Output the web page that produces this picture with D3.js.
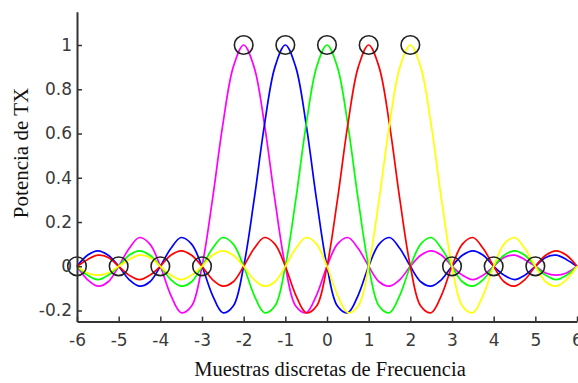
<!DOCTYPE html>
<html>
<head>
<meta charset="utf-8">
<script src="https://cdn.jsdelivr.net/npm/d3@7/dist/d3.min.js"></script>
<style>
html,body{margin:0;padding:0;background:#fff;}
svg{display:block;}
</style>
</head>
<body>
<svg id="chart" width="578" height="383"></svg>
<script>
// ---- data ----
const xStart = -6, xEnd = 6, xStep = 0.25;
const magenta = [0,-0.06,-0.09,-0.07,0,0.08,0.13,0.10,0,-0.13,-0.21,-0.18,0,0.30,0.64,0.90,1,0.90,0.64,0.30,0,-0.18,-0.21,-0.13,0,0.10,0.13,0.08,0,-0.07,-0.09,-0.06,0,0.05,0.07,0.05,0,-0.04,-0.06,-0.04,0,0.04,0.05,0.03,0,-0.03,-0.04,-0.03,0];
const blue = [0,0.05,0.07,0.05,0,-0.06,-0.09,-0.07,0,0.08,0.13,0.10,0,-0.13,-0.21,-0.18,0,0.30,0.64,0.90,1,0.90,0.64,0.30,0,-0.18,-0.21,-0.13,0,0.10,0.13,0.08,0,-0.07,-0.09,-0.06,0,0.05,0.07,0.05,0,-0.04,-0.06,-0.04,0,0.04,0.05,0.03,0];
const green = [0,-0.04,-0.06,-0.04,0,0.05,0.07,0.05,0,-0.06,-0.09,-0.07,0,0.08,0.13,0.10,0,-0.13,-0.21,-0.18,0,0.30,0.64,0.90,1,0.90,0.64,0.30,0,-0.18,-0.21,-0.13,0,0.10,0.13,0.08,0,-0.07,-0.09,-0.06,0,0.05,0.07,0.05,0,-0.04,-0.06,-0.04,0];
const red = [0,0.03,0.05,0.04,0,-0.04,-0.06,-0.04,0,0.05,0.07,0.05,0,-0.06,-0.09,-0.07,0,0.08,0.13,0.10,0,-0.13,-0.21,-0.18,0,0.30,0.64,0.90,1,0.90,0.64,0.30,0,-0.18,-0.21,-0.13,0,0.10,0.13,0.08,0,-0.07,-0.09,-0.06,0,0.05,0.07,0.05,0];
const yellow = [0,-0.03,-0.04,-0.03,0,0.03,0.05,0.04,0,-0.04,-0.06,-0.04,0,0.05,0.07,0.05,0,-0.06,-0.09,-0.07,0,0.08,0.13,0.10,0,-0.13,-0.21,-0.18,0,0.30,0.64,0.90,1,0.90,0.64,0.30,0,-0.18,-0.21,-0.13,0,0.10,0.13,0.08,0,-0.07,-0.09,-0.06,0];
const seriesList = [
  {name:"magenta", values: magenta, color:"#ff00ff"},
  {name:"blue", values: blue, color:"#0000ff"},
  {name:"green", values: green, color:"#00ff00"},
  {name:"red", values: red, color:"#ff0000"},
  {name:"yellow", values: yellow, color:"#ffff00"}
];
const markerX = [-2,-1,0,1,2,-6,-5,-4,-3,3,4,5];
const markerY = [1,1,1,1,1,0,0,0,0,0,0,0];
const xTicks = [-6,-5,-4,-3,-2,-1,0,1,2,3,4,5,6];
const xTickLabels = ["-6","-5","-4","-3","-2","-1","0","1","2","3","4","5","6"];
const yTicks = [-0.2,0,0.2,0.4,0.6,0.8,1];
const yTickLabels = ["-0.2","0","0.2","0.4","0.6","0.8","1"];
const xTitle = "Muestras discretas de Frecuencia";
const yTitle = "Potencia de TX";

// ---- drawing ----
const svg = d3.select("#chart");
const x = d3.scaleLinear().domain([-6, 6]).range([77, 577]);
const y = d3.scaleLinear().domain([-0.25, 1.15]).range([321.6, 11.8]);
const xs = d3.range(0, magenta.length).map(i => xStart + i * xStep);

const line = d3.line()
  .x((d, i) => x(xs[i]))
  .y(d => y(d))
  .curve(d3.curveCatmullRom.alpha(0.5));

svg.append("g").selectAll("path")
  .data(seriesList)
  .join("path")
  .attr("d", s => line(s.values))
  .attr("fill", "none")
  .attr("stroke", s => s.color)
  .attr("stroke-width", 1.7)
  .attr("stroke-linejoin", "round");

svg.append("g").selectAll("circle")
  .data(markerX.map((v, i) => ({x: v, y: markerY[i]})))
  .join("circle")
  .attr("cx", d => x(d.x))
  .attr("cy", d => y(d.y))
  .attr("r", 9.3)
  .attr("fill", "none")
  .attr("stroke", "#222")
  .attr("stroke-width", 1.6);

const axisColor = "#333";
const yAxis = d3.axisLeft(y)
  .tickValues(yTicks)
  .tickFormat((d, i) => yTickLabels[i])
  .tickSizeInner(-5)
  .tickSizeOuter(0)
  .tickPadding(5);
const gy = svg.append("g").attr("transform", `translate(${x(-6)},0)`).call(yAxis);

const xAxis = d3.axisBottom(x)
  .tickValues(xTicks)
  .tickFormat((d, i) => xTickLabels[i])
  .tickSizeInner(-5)
  .tickSizeOuter(0)
  .tickPadding(12);
const gx = svg.append("g").attr("transform", `translate(0,${y(-0.25)})`).call(xAxis);

[gx, gy].forEach(g => {
  g.attr("font-family", "'DejaVu Sans', sans-serif").attr("font-size", 17);
  g.select(".domain").attr("stroke", axisColor).attr("stroke-width", 2);
  g.selectAll(".tick line").attr("stroke", axisColor).attr("stroke-width", 1.5);
  g.selectAll(".tick text").attr("fill", "#3a3a3a");
});

svg.append("text")
  .attr("x", 330)
  .attr("y", 376)
  .attr("text-anchor", "middle")
  .attr("font-family", "'Liberation Serif', 'Times New Roman', serif")
  .attr("font-size", 20.5)
  .attr("fill", "#111")
  .text(xTitle);

svg.append("text")
  .attr("transform", "translate(28,153) rotate(-90)")
  .attr("text-anchor", "middle")
  .attr("font-family", "'Liberation Serif', 'Times New Roman', serif")
  .attr("font-size", 21)
  .attr("fill", "#111")
  .text(yTitle);
</script>
</body>
</html>
